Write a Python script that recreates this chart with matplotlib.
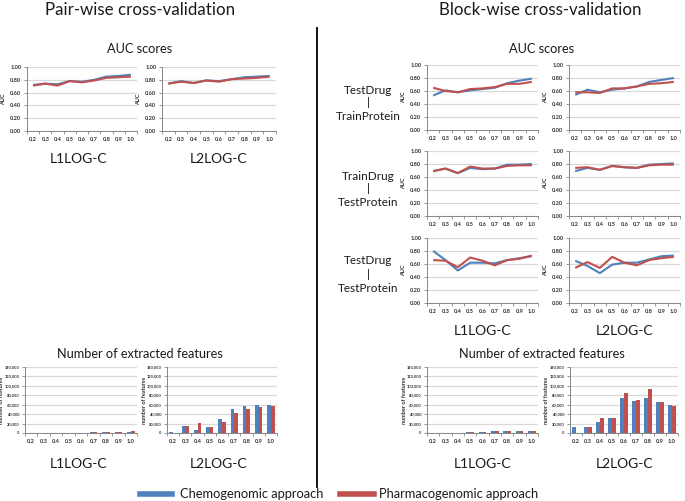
import matplotlib
matplotlib.use("Agg")
import matplotlib.pyplot as plt
import numpy as np

plt.rcParams['font.family'] = ['Lato', 'DejaVu Sans']

categories = ['0.2', '0.3', '0.4', '0.5', '0.6', '0.7', '0.8', '0.9', '1.0']
series_names = ['Chemogenomic approach', 'Pharmacogenomic approach']

# Pair-wise AUC
pair_l1_chemo = [0.72, 0.74, 0.73, 0.78, 0.77, 0.80, 0.85, 0.86, 0.88]
pair_l1_pharma = [0.71, 0.74, 0.71, 0.78, 0.76, 0.79, 0.83, 0.84, 0.85]
pair_l2_chemo = [0.74, 0.78, 0.75, 0.79, 0.78, 0.81, 0.84, 0.85, 0.86]
pair_l2_pharma = [0.74, 0.77, 0.75, 0.79, 0.77, 0.81, 0.82, 0.83, 0.85]

# Block-wise AUC
tdtp_l1_chemo = [0.53, 0.61, 0.58, 0.61, 0.63, 0.65, 0.72, 0.76, 0.79]
tdtp_l1_pharma = [0.65, 0.60, 0.58, 0.63, 0.64, 0.66, 0.71, 0.71, 0.74]
tdtp_l2_chemo = [0.54, 0.62, 0.58, 0.62, 0.64, 0.67, 0.74, 0.77, 0.80]
tdtp_l2_pharma = [0.58, 0.58, 0.57, 0.64, 0.64, 0.67, 0.71, 0.72, 0.74]

trdte_l1_chemo = [0.69, 0.73, 0.66, 0.74, 0.72, 0.73, 0.79, 0.79, 0.80]
trdte_l1_pharma = [0.69, 0.73, 0.66, 0.76, 0.73, 0.73, 0.77, 0.78, 0.78]
trdte_l2_chemo = [0.69, 0.74, 0.71, 0.77, 0.75, 0.74, 0.79, 0.80, 0.81]
trdte_l2_pharma = [0.74, 0.75, 0.71, 0.77, 0.75, 0.74, 0.78, 0.79, 0.79]

tete_l1_chemo = [0.80, 0.66, 0.50, 0.62, 0.62, 0.61, 0.66, 0.69, 0.72]
tete_l1_pharma = [0.66, 0.65, 0.55, 0.70, 0.65, 0.58, 0.66, 0.68, 0.73]
tete_l2_chemo = [0.65, 0.57, 0.46, 0.59, 0.62, 0.62, 0.67, 0.72, 0.73]
tete_l2_pharma = [0.54, 0.63, 0.54, 0.71, 0.62, 0.58, 0.66, 0.69, 0.71]

# Number of extracted features
pair_feat_l1_chemo = [200, 200, 300, 400, 600, 1500, 2500, 2800, 3000]
pair_feat_l1_pharma = [200, 200, 300, 400, 600, 1500, 2800, 2800, 3200]
pair_feat_l2_chemo = [1500, 14300, 6400, 12900, 30000, 50000, 56400, 59300, 60000]
pair_feat_l2_pharma = [1000, 14300, 21400, 12100, 23600, 41400, 50000, 55700, 56400]

block_feat_l1_chemo = [300, 400, 600, 1500, 2500, 3500, 4500, 5000, 5000]
block_feat_l1_pharma = [300, 400, 600, 1500, 2500, 3500, 4500, 5000, 5000]
block_feat_l2_chemo = [12900, 12900, 22900, 32000, 74000, 67900, 75000, 65000, 59300]
block_feat_l2_pharma = [0, 12100, 32000, 32000, 85700, 69300, 94300, 65000, 57100]

BLUE = '#4F81BD'
RED = '#C0504D'
W, H = 685, 501

fig = plt.figure(figsize=(W / 100, H / 100), dpi=100)


def add_ax(left, top, right, bottom):
    return fig.add_axes([left / W, 1 - bottom / H, (right - left) / W, (bottom - top) / H])


def style(ax, box, ymax, ystep, fmt, ylabel, ysize):
    n = len(categories)
    ax.set_xlim(-0.5, n - 0.5)
    ax.set_ylim(0, ymax)
    ticks = np.arange(0, ymax + ystep / 2, ystep)
    ax.set_yticks(ticks)
    ax.set_yticklabels([fmt(v) for v in ticks])
    ax.set_xticks(range(n))
    ax.set_xticklabels(categories)
    ax.set_xticks(np.arange(-0.5, n, 1.0), minor=True)
    ax.tick_params(axis='x', which='major', length=0, pad=4)
    ax.tick_params(axis='x', which='minor', length=2, color='#868686', width=0.6)
    ax.tick_params(axis='y', length=2, color='#868686', width=0.6, pad=2)
    for lab in ax.get_xticklabels():
        lab.set_fontsize(4.1)
        lab.set_fontweight('bold')
        lab.set_color('#303030')
    for lab in ax.get_yticklabels():
        lab.set_fontsize(ysize)
        lab.set_fontweight('bold')
        lab.set_color('#303030')
    for s in ['top', 'right']:
        ax.spines[s].set_visible(False)
    for s in ['left', 'bottom']:
        ax.spines[s].set_color('#868686')
        ax.spines[s].set_linewidth(0.7)
    ax.yaxis.grid(True, color='#D9D9D9', linewidth=0.9)
    ax.set_axisbelow(True)
    ax.set_ylabel(ylabel, fontsize=4.0, fontweight='bold', color='#303030')
    width = box[2] - box[0]
    ax.yaxis.set_label_coords(-20.5 / width, 0.5)


def auc_plot(box, chemo, pharma):
    ax = add_ax(*box)
    x = np.arange(len(categories))
    ax.plot(x, chemo, color=BLUE, lw=1.5, solid_capstyle='butt')
    ax.plot(x, pharma, color=RED, lw=1.5, solid_capstyle='butt')
    style(ax, box, 1.0, 0.2, lambda v: '%.2f' % v, 'AUC', 4.1)
    return ax


def bar_plot(box, chemo, pharma):
    ax = add_ax(*box)
    x = np.arange(len(categories))
    bw = 0.3
    ax.bar(x - bw / 2, chemo, width=bw, color=BLUE)
    ax.bar(x + bw / 2, pharma, width=bw, color=RED)
    style(ax, box, 140000, 20000, lambda v: '{:,}'.format(int(round(v))), 'number of features', 2.9)
    return ax


# Pair-wise
auc_plot((27, 67, 137, 131), pair_l1_chemo, pair_l1_pharma)
auc_plot((162, 67, 276, 131), pair_l2_chemo, pair_l2_pharma)
bar_plot((25, 367, 137, 433), pair_feat_l1_chemo, pair_feat_l1_pharma)
bar_plot((167, 367, 277, 433), pair_feat_l2_chemo, pair_feat_l2_pharma)

# Block-wise
rows = [(65, 130, tdtp_l1_chemo, tdtp_l1_pharma, tdtp_l2_chemo, tdtp_l2_pharma),
        (151, 216, trdte_l1_chemo, trdte_l1_pharma, trdte_l2_chemo, trdte_l2_pharma),
        (238, 303, tete_l1_chemo, tete_l1_pharma, tete_l2_chemo, tete_l2_pharma)]
for top, bot, c1, p1, c2, p2 in rows:
    auc_plot((427, top, 538, bot), c1, p1)
    auc_plot((569, top, 680, bot), c2, p2)
bar_plot((427, 367, 538, 433), block_feat_l1_chemo, block_feat_l1_pharma)
bar_plot((570, 367, 678, 433), block_feat_l2_chemo, block_feat_l2_pharma)


def ftext(x, y, s, size, **kw):
    fig.text(x / W, 1 - y / H, s, fontsize=size, ha='center', va='center', color='#1a1a1a', **kw)


ftext(140, 10, 'Pair-wise cross-validation', 12.2)
ftext(540, 10, 'Block-wise cross-validation', 12.2)
ftext(140, 49, 'AUC scores', 9.2)
ftext(542, 49, 'AUC scores', 9.2)
ftext(79, 159, 'L1LOG-C', 10)
ftext(219, 159, 'L2LOG-C', 10)
ftext(140, 354, 'Number of extracted features', 9.2)
ftext(542, 354, 'Number of extracted features', 9.2)
ftext(79, 464, 'L1LOG-C', 10)
ftext(219, 464, 'L2LOG-C', 10)
ftext(483, 331, 'L1LOG-C', 10)
ftext(625, 331, 'L2LOG-C', 10)
ftext(483, 464, 'L1LOG-C', 10)
ftext(625, 464, 'L2LOG-C', 10)

row_labels = [('TestDrug', 'TrainProtein', 103), ('TrainDrug', 'TestProtein', 189), ('TestDrug', 'TestProtein', 274)]
for a, b, yc in row_labels:
    ftext(368, yc - 13, a, 8.5)
    ftext(368, yc, '|', 8.5)
    ftext(368, yc + 14, b, 8.5)

# divider
fig.add_artist(plt.Line2D([317 / W, 317 / W], [1 - 28 / H, 1 - 487 / H], color='black', lw=1.3))

# legend
fig.add_artist(plt.Line2D([140 / W, 172 / W], [1 - 494 / H] * 2, color=BLUE, lw=4))
fig.text(180 / W, 1 - 494 / H, series_names[0], fontsize=9.3, ha='left', va='center', color='#1a1a1a')
fig.add_artist(plt.Line2D([340 / W, 374 / W], [1 - 494 / H] * 2, color=RED, lw=4))
fig.text(379 / W, 1 - 494 / H, series_names[1], fontsize=9.3, ha='left', va='center', color='#1a1a1a')

fig.savefig('out.png', dpi=100, facecolor='white')
